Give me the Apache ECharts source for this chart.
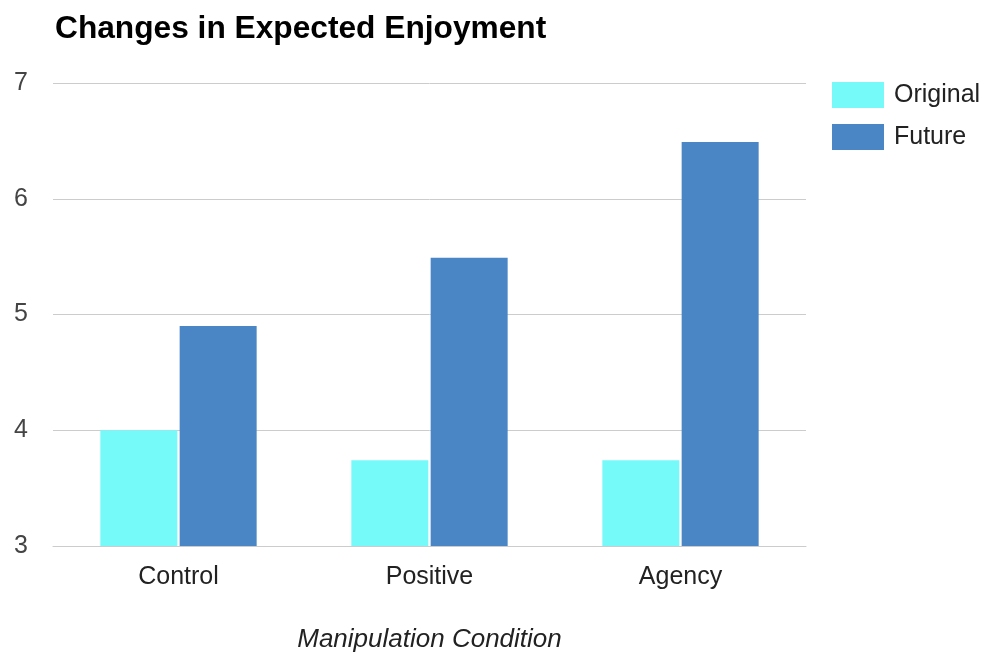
<!DOCTYPE html>
<html>
<head>
<meta charset="utf-8">
<script src="https://cdn.jsdelivr.net/npm/echarts@6/dist/echarts.min.js"></script>
<style>
html,body{margin:0;padding:0;background:#fff;}
#chart{width:992px;height:654px;}
</style>
</head>
<body>
<div id="chart"></div>
<script>
const categories = ["Control", "Positive", "Agency"];
const seriesNames = ["Original", "Future"];
const originalValues = [4.0, 3.74, 3.74];
const futureValues = [4.9, 5.49, 6.49];
const yTicks = [3, 4, 5, 6, 7];

const FONT = '"Liberation Sans", Arial, Helvetica, sans-serif';
const chart = echarts.init(document.getElementById('chart'), null, {renderer: 'canvas'});
chart.setOption({
  backgroundColor: '#ffffff',
  animation: false,
  title: {
    text: 'Changes in Expected Enjoyment',
    left: 50,
    top: 8,
    textStyle: {fontFamily: FONT, fontSize: 31.7, fontWeight: 'bold', color: '#000000'}
  },
  legend: {
    orient: 'vertical',
    left: 832,
    top: 82,
    padding: 0,
    itemWidth: 52,
    itemHeight: 26,
    itemGap: 16,
    icon: 'rect',
    data: seriesNames,
    textStyle: {fontFamily: FONT, fontSize: 25, color: '#222222', padding: [3, 0, 0, 5]}
  },
  grid: {left: 53, right: 186, top: 83, bottom: 108, containLabel: false, outerBoundsMode: 'none'},
  xAxis: {
    type: 'category',
    data: categories,
    name: 'Manipulation Condition',
    nameLocation: 'middle',
    nameGap: 81,
    nameTextStyle: {fontFamily: FONT, fontSize: 26, fontStyle: 'italic', color: '#222222'},
    axisLine: {show: true, lineStyle: {color: '#cccccc', width: 1}},
    axisTick: {show: false},
    axisLabel: {fontFamily: FONT, fontSize: 25, color: '#222222', margin: 19}
  },
  yAxis: {
    type: 'value',
    min: yTicks[0],
    max: yTicks[yTicks.length - 1],
    interval: 1,
    axisLine: {show: false},
    axisTick: {show: false},
    splitLine: {lineStyle: {color: '#cccccc', width: 1}},
    axisLabel: {fontFamily: FONT, fontSize: 25, color: '#444444', margin: 25, padding: [4, 0, 0, 0]}
  },
  series: [
    {
      name: seriesNames[0],
      type: 'bar',
      data: originalValues,
      barWidth: 77,
      barGap: '3%',
      itemStyle: {color: '#76f9f9', borderWidth: 0}
    },
    {
      name: seriesNames[1],
      type: 'bar',
      data: futureValues,
      barWidth: 77,
      barGap: '3%',
      itemStyle: {color: '#4a86c5', borderWidth: 0}
    }
  ]
});
</script>
</body>
</html>
